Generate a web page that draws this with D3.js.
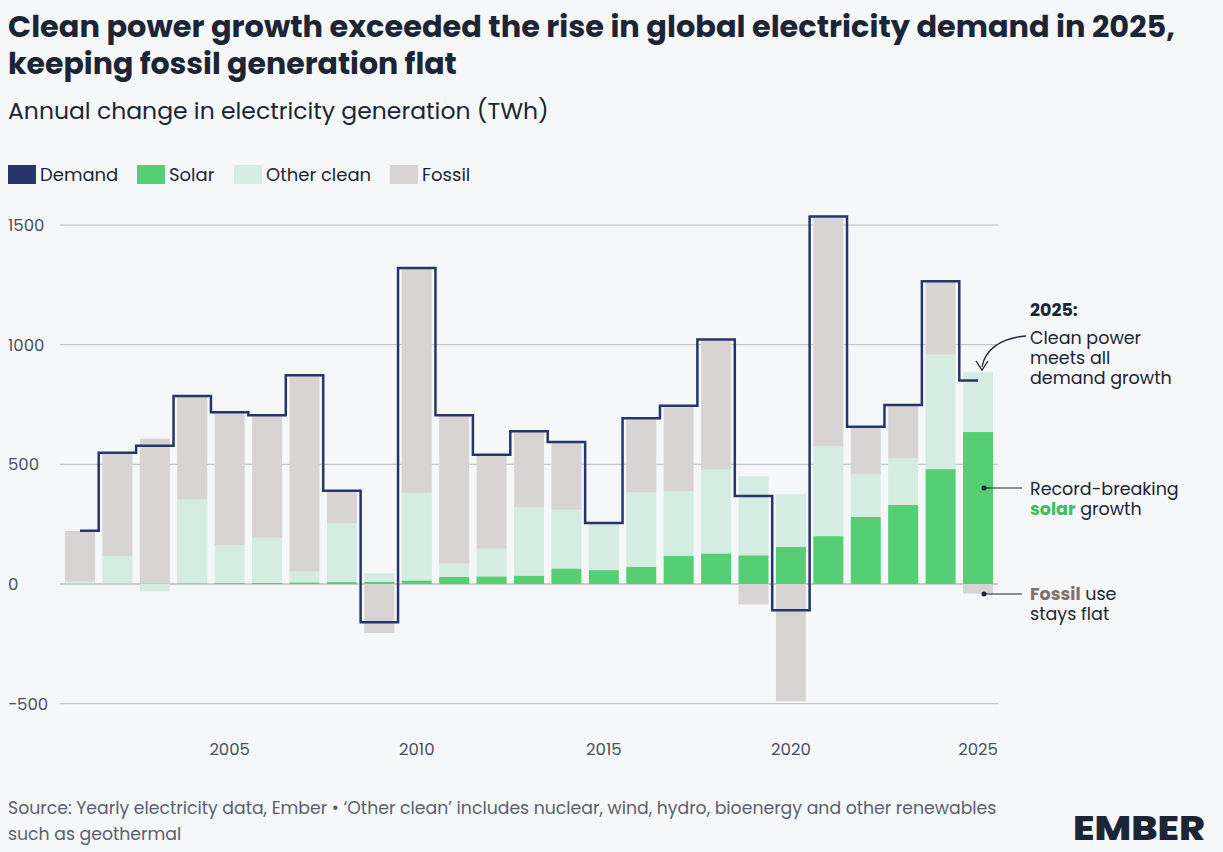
<!DOCTYPE html>
<html><head><meta charset="utf-8">
<script src="https://cdn.jsdelivr.net/npm/d3@7"></script>
<style>body{margin:0;background:#f6f7f9;font-family:Poppins,Inter,"Noto Sans",sans-serif;}</style>
</head><body><svg id="c" width="1223" height="852"></svg>
<script>
const years=d3.range(2001,2026);
const demand=[222,548,578,785,718,705,872,390,-160,1320,705,540,638,593,255,693,745,1022,368,-110,1535,657,748,1265,850];
const solar=[2,2,2,3,4,5,7,8,10,15,30,32,35,65,58,72,118,128,120,155,200,280,330,480,635];
const otherClean=[8,115,-30,350,158,188,45,245,35,365,55,115,285,245,192,310,270,350,330,220,375,180,195,478,250];
const fossil=[212,430,605,430,558,510,820,135,-205,940,620,395,318,285,0,305,355,540,-85,-490,955,195,220,305,-40];
const yTicks=[-500,0,500,1000,1500];
const xTicks=[2005,2010,2015,2020,2025];
const colors={solar:"#56cf74",other:"#d4ece1",fossil:"#d7d4d3",demand:"#26356a"};

const svg=d3.select("#c");
svg.append("rect").attr("width",1223).attr("height",852).attr("fill","#f6f7f9");
const x=d3.scaleLinear().domain([2001,2025]).range([80,978]);
const y=d3.scaleLinear().domain([0,1500]).range([584,225]);
const bw=30;
const g=svg.append("g");
yTicks.forEach(t=>{
  g.append("line").attr("x1",60).attr("x2",998).attr("y1",y(t)).attr("y2",y(t)).attr("stroke",t===0?"#9aa0a8":"#b8bcc4").attr("stroke-width",1);
  g.append("text").attr("x",8).attr("y",y(t)+6).attr("font-size",16.5).attr("fill","#4a5060").text(t<0?"\u2212"+Math.abs(t):t);
});
xTicks.forEach(t=>g.append("text").attr("x",x(t)).attr("y",755).attr("text-anchor","middle").attr("font-size",16.5).attr("fill","#4a5060").text(t));
years.forEach((yr,i)=>{
  let pos=0,neg=0;
  [[solar[i],colors.solar],[otherClean[i],colors.other],[fossil[i],colors.fossil]].forEach(([v,c])=>{
    let y0,y1;
    if(v>=0){y0=pos;y1=pos+v;pos=y1;}else{y0=neg;y1=neg+v;neg=y1;}
    g.append("rect").attr("x",x(yr)-bw/2).attr("width",bw)
     .attr("y",y(Math.max(y0,y1))).attr("height",Math.abs(y(y0)-y(y1))).attr("fill",c);
  });
});
const line=d3.line().x((d,i)=>x(years[i])).y(d=>y(d)).curve(d3.curveStep);
g.append("path").attr("d",line(demand)).attr("fill","none").attr("stroke",colors.demand).attr("stroke-width",2.5);
const T=(t,xx,yy,s,w,c)=>svg.append("text").attr("x",xx).attr("y",yy).attr("font-size",s).attr("font-weight",w).attr("fill",c).text(t);
T("Clean power growth exceeded the rise in global electricity demand in 2025,",8,37,30,700,"#1d2433").attr("textLength",1167).attr("lengthAdjust","spacingAndGlyphs");
T("keeping fossil generation flat",8,74,30,700,"#1d2433");
T("Annual change in electricity generation (TWh)",8,119,23.5,400,"#1d2433");
const leg=[["Demand",colors.demand,8],["Solar",colors.solar,137],["Other clean",colors.other,234],["Fossil",colors.fossil,390]];
leg.forEach(([t,c,xx])=>{svg.append("rect").attr("x",xx).attr("y",165).attr("width",28).attr("height",19).attr("fill",c);
  T(t,xx+32,181,18,400,"#1d2433");});
T("2025:",1030,316,17.5,700,"#1d2433");
["Clean power","meets all","demand growth"].forEach((t,i)=>T(t,1030,344+i*20,17.5,400,"#1d2433"));
svg.append("path").attr("d","M1026,336 C1000,338 985,350 982,367").attr("fill","none").attr("stroke","#1d2433").attr("stroke-width",1.3);
svg.append("path").attr("d","M976,361 L982,370 L988,361").attr("fill","none").attr("stroke","#1d2433").attr("stroke-width",1.3);
T("Record-breaking",1030,495,17.5,400,"#1d2433");
const t2=svg.append("text").attr("x",1030).attr("y",515).attr("font-size",17.5).attr("fill","#1d2433");
t2.append("tspan").attr("font-weight",700).attr("fill","#3dbf5e").text("solar");t2.append("tspan").text(" growth");
svg.append("line").attr("x1",984).attr("x2",1022).attr("y1",488).attr("y2",488).attr("stroke","#1d2433");
svg.append("circle").attr("cx",984).attr("cy",488).attr("r",2.5).attr("fill","#1d2433");
const t3=svg.append("text").attr("x",1030).attr("y",600).attr("font-size",17.5).attr("fill","#1d2433");
t3.append("tspan").attr("font-weight",700).attr("fill","#7d716c").text("Fossil");t3.append("tspan").text(" use");
T("stays flat",1030,620,17.5,400,"#1d2433");
svg.append("line").attr("x1",984).attr("x2",1022).attr("y1",594).attr("y2",594).attr("stroke","#1d2433");
svg.append("circle").attr("cx",984).attr("cy",594).attr("r",2.5).attr("fill","#1d2433");
T("Source: Yearly electricity data, Ember \u2022 \u2018Other clean\u2019 includes nuclear, wind, hydro, bioenergy and other renewables",8,814,17.3,400,"#5a6070");
T("such as geothermal",8,840,17.3,400,"#5a6070");
T("EMBER",1073,840,34,800,"#1d2433").attr("textLength",132).attr("lengthAdjust","spacingAndGlyphs");
</script></body></html>
